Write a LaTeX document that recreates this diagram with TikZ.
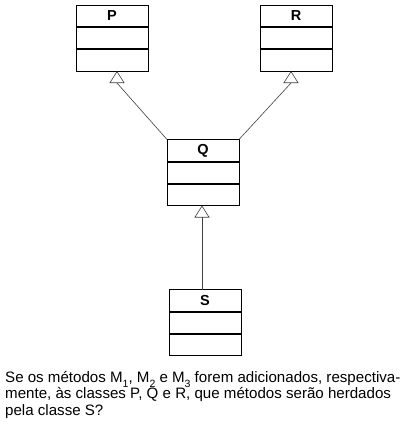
\documentclass[tikz,border=0pt]{standalone}
\usepackage{fontspec}
\setmainfont{Liberation Sans}
\usetikzlibrary{arrows.meta,positioning,calc}
\newcommand{\msub}[1]{\raisebox{-5pt}{\fontsize{10.5}{10.5}\selectfont #1}}
\tikzset{
  classhead/.style={
    draw=black,
    line width=0.8pt,
    minimum width=72pt,
    minimum height=22pt,
    inner sep=0pt,
    outer sep=0pt,
    font=\fontsize{14.5}{16}\selectfont\bfseries
  },
  classrow/.style={
    draw=black,
    line width=0.8pt,
    minimum width=72pt,
    minimum height=22pt,
    inner sep=0pt,
    outer sep=0pt
  },
  classsep/.style={line width=2pt},
  genarrow/.style={-{Triangle[open,length=12pt,width=15pt]},line width=0.6pt,draw=black!75}
}

\begin{document}
\begin{tikzpicture}[x=1pt,y=1pt,node distance=0pt]
\useasboundingbox (0,0) rectangle (411,-429);
\foreach \c/\x/\y in {P/112/-16,R/296/-16,Q/203/-150.5,S/205/-300.5}{
  \node[classhead] (\c-h) at (\x,\y) {\c};
  \node[classrow,below=of \c-h] (\c-m) {};
  \node[classrow,below=of \c-m] (\c-b) {};
  \draw[classsep] (\c-h.south west) -- (\c-h.south east);
  \draw[classsep] (\c-m.south west) -- (\c-m.south east);
}
\coordinate (ptip) at ([xshift=5pt]P-b.south);
\coordinate (rtip) at ([xshift=-5pt]R-b.south);
\coordinate (qtip) at ([xshift=-1pt]Q-b.south);
\draw[genarrow] (Q-h.north west) -- ([yshift=-12pt]ptip) -- (ptip);
\draw[genarrow] (Q-h.north east) -- ([yshift=-12pt]rtip) -- (rtip);
\draw[genarrow] (S-h.north -| qtip) -- (qtip);
\node[anchor=north west,align=left,inner sep=0pt,font=\fontsize{15.1}{16.5}\selectfont] (question) at (5,-371)
  {Se os métodos M\msub{1}, M\msub{2} e M\msub{3} forem adicionados, respectiva-\\mente, às classes P, Q e R, que métodos serão herdados\\pela classe S?};
\end{tikzpicture}
\end{document}
